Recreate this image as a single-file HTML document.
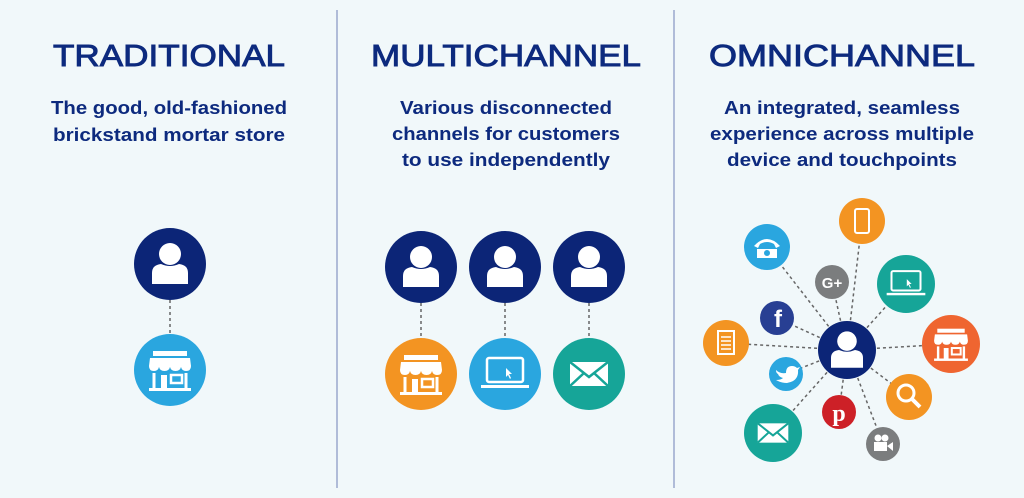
<!DOCTYPE html>
<html><head><meta charset="utf-8"><style>
html,body{margin:0;padding:0;background:#f1f8fa;}
svg{display:block}
.t{font-family:"Liberation Sans",sans-serif;font-weight:bold;fill:#0d2a7e;text-anchor:middle}
.h{font-weight:normal;stroke:#0d2a7e;stroke-width:0.9}
</style></head><body>
<svg width="1024" height="498" viewBox="0 0 1024 498" xmlns="http://www.w3.org/2000/svg">
<defs>
<symbol id="user" viewBox="-36 -36 72 72">
<circle cx="0" cy="-10" r="11" fill="#fff"/>
<path d="M-18 20 V9 Q-18 1 -9 0 Q0 4 9 0 Q18 1 18 9 V20 Z" fill="#fff"/>
</symbol>
<symbol id="store" viewBox="-36 -36 72 72">
<rect x="-17" y="-19" width="34" height="5" fill="#fff"/>
<path d="M-20 -12 H20 L21 -4 Q21 1 16 1 Q12 1 11 -3 Q10 1 5.5 1 Q1 1 0 -3 Q-1 1 -5.5 1 Q-10 1 -11 -3 Q-12 1 -16 1 Q-21 1 -21 -4Z" fill="#fff"/>
<path d="M-16 3 V18 M16 3 V18" stroke="#fff" stroke-width="3"/>
<rect x="-9" y="5" width="6" height="13" fill="#fff"/>
<rect x="1" y="5" width="11" height="8" fill="none" stroke="#fff" stroke-width="2.5"/>
<rect x="-21" y="18" width="42" height="3" fill="#fff"/>
</symbol>
<symbol id="laptop" viewBox="-36 -36 72 72">
<rect x="-18" y="-16" width="36" height="24" rx="2" fill="none" stroke="#fff" stroke-width="2.5"/>
<rect x="-24" y="11" width="48" height="3" fill="#fff"/>
<path d="M1 -6 L1 3 L3 1 L5 5 L6 4 L4 0 L7 0Z" fill="#fff"/>
</symbol>
<symbol id="mail" viewBox="-36 -36 72 72">
<rect x="-19" y="-12" width="38" height="24" fill="#fff"/>
<path d="M-19 -12 L0 3 L19 -12 M-19 12 L-5 -1 M19 12 L5 -1" stroke="#16a598" stroke-width="2.5" fill="none"/>
</symbol>
</defs>

<line x1="337" y1="10" x2="337" y2="488" stroke="#9aa8cc" stroke-width="1.5"/>
<line x1="674" y1="10" x2="674" y2="488" stroke="#9aa8cc" stroke-width="1.5"/>

<text class="t h" x="169" y="66" font-size="31" textLength="232" lengthAdjust="spacingAndGlyphs">TRADITIONAL</text>
<text class="t" x="169" y="114" font-size="18" textLength="236" lengthAdjust="spacingAndGlyphs">The good, old-fashioned</text>
<text class="t" x="169" y="141" font-size="18" textLength="232" lengthAdjust="spacingAndGlyphs">brickstand mortar store</text>

<text class="t h" x="506" y="66" font-size="31" textLength="270" lengthAdjust="spacingAndGlyphs">MULTICHANNEL</text>
<text class="t" x="506" y="114" font-size="18" textLength="212" lengthAdjust="spacingAndGlyphs">Various disconnected</text>
<text class="t" x="506" y="140" font-size="18" textLength="228" lengthAdjust="spacingAndGlyphs">channels for customers</text>
<text class="t" x="506" y="166" font-size="18" textLength="208" lengthAdjust="spacingAndGlyphs">to use independently</text>

<text class="t h" x="842" y="66" font-size="31" textLength="266" lengthAdjust="spacingAndGlyphs">OMNICHANNEL</text>
<text class="t" x="842" y="114" font-size="18" textLength="236" lengthAdjust="spacingAndGlyphs">An integrated, seamless</text>
<text class="t" x="842" y="140" font-size="18" textLength="264" lengthAdjust="spacingAndGlyphs">experience across multiple</text>
<text class="t" x="842" y="166" font-size="18" textLength="230" lengthAdjust="spacingAndGlyphs">device and touchpoints</text>

<g stroke="#666" stroke-width="1.5" stroke-dasharray="3,3">
<line x1="170" y1="300" x2="170" y2="334"/>
<line x1="421" y1="303" x2="421" y2="337"/>
<line x1="505" y1="303" x2="505" y2="337"/>
<line x1="589" y1="303" x2="589" y2="337"/>
<g>
<line x1="847" y1="350" x2="862" y2="221"/>
<line x1="847" y1="350" x2="767" y2="247"/>
<line x1="847" y1="350" x2="832" y2="282"/>
<line x1="847" y1="350" x2="906" y2="284"/>
<line x1="847" y1="350" x2="777" y2="318"/>
<line x1="847" y1="350" x2="726" y2="343"/>
<line x1="847" y1="350" x2="951" y2="344"/>
<line x1="847" y1="350" x2="786" y2="374"/>
<line x1="847" y1="350" x2="909" y2="397"/>
<line x1="847" y1="350" x2="773" y2="433"/>
<line x1="847" y1="350" x2="839" y2="412"/>
<line x1="847" y1="350" x2="883" y2="444"/>
</g>
</g>

<circle cx="170" cy="264" r="36" fill="#0c2577"/><use href="#user" x="134" y="228" width="72" height="72"/>
<circle cx="170" cy="370" r="36" fill="#2aa6df"/><use href="#store" x="134" y="334" width="72" height="72"/>

<circle cx="421" cy="267" r="36" fill="#0c2577"/><use href="#user" x="385" y="231" width="72" height="72"/>
<circle cx="505" cy="267" r="36" fill="#0c2577"/><use href="#user" x="469" y="231" width="72" height="72"/>
<circle cx="589" cy="267" r="36" fill="#0c2577"/><use href="#user" x="553" y="231" width="72" height="72"/>
<circle cx="421" cy="374" r="36" fill="#f39422"/><use href="#store" x="385" y="338" width="72" height="72"/>
<circle cx="505" cy="374" r="36" fill="#2aa6df"/><use href="#laptop" x="469" y="338" width="72" height="72"/>
<circle cx="589" cy="374" r="36" fill="#16a598"/><use href="#mail" x="553" y="338" width="72" height="72"/>

<circle cx="862" cy="221" r="23" fill="#f39422"/>
<rect x="855" y="209" width="14" height="24" rx="2" fill="none" stroke="#fff" stroke-width="2"/>
<circle cx="767" cy="247" r="23" fill="#2aa6df"/>
<path d="M754 246 Q767 232 780 246 L776 248 L774 244 Q767 240 760 244 L758 248Z M757 249 H777 V258 H757Z" fill="#fff"/>
<circle cx="767" cy="253" r="3" fill="#2aa6df"/>
<circle cx="832" cy="282" r="17" fill="#7b7d7e"/>
<text x="832" y="288" font-family="Liberation Sans,sans-serif" font-weight="bold" font-size="15" fill="#fff" text-anchor="middle">G+</text>
<circle cx="906" cy="284" r="29" fill="#16a598"/><use href="#laptop" x="877" y="255" width="58" height="58"/>
<circle cx="777" cy="318" r="17" fill="#283f93"/>
<text x="778" y="327" font-family="Liberation Sans,sans-serif" font-weight="bold" font-size="24" fill="#fff" text-anchor="middle">f</text>
<circle cx="726" cy="343" r="23" fill="#f39422"/>
<rect x="718" y="331" width="16" height="23" fill="none" stroke="#fff" stroke-width="2"/>
<path d="M721 337 H731 M721 341 H731 M721 345 H731 M721 349 H731" stroke="#fff" stroke-width="1.5"/>
<circle cx="951" cy="344" r="29" fill="#ef6530"/><use href="#store" x="922" y="315" width="58" height="58"/>
<circle cx="786" cy="374" r="17" fill="#2aa6df"/>
<path d="M776 370 Q780 374 786 373 Q786 366 792 366 Q795 366 797 368 L800 367 L798 370 Q799 381 787 383 Q781 383 776 380 Q781 380 783 378 Q779 377 778 374 Q776 373 776 370Z" fill="#fff"/>
<circle cx="909" cy="397" r="23" fill="#f39422"/>
<circle cx="906" cy="393" r="8" fill="none" stroke="#fff" stroke-width="3"/>
<line x1="912" y1="399" x2="920" y2="407" stroke="#fff" stroke-width="4"/>
<circle cx="773" cy="433" r="29" fill="#16a598"/><use href="#mail" x="744" y="404" width="58" height="58"/>
<circle cx="839" cy="412" r="17" fill="#cd2027"/>
<text x="839" y="421" font-family="Liberation Serif,serif" font-weight="bold" font-size="24" fill="#fff" text-anchor="middle">p</text>
<circle cx="883" cy="444" r="17" fill="#7b7d7e"/>
<rect x="874" y="442" width="13" height="9" fill="#fff"/>
<path d="M887 446 L893 442 V451 Z" fill="#fff"/>
<circle cx="878" cy="438" r="3.5" fill="#fff"/><circle cx="885" cy="438" r="3.5" fill="#fff"/>

<circle cx="847" cy="350" r="29" fill="#0c2577"/><use href="#user" x="815" y="318" width="64" height="64"/>
</svg>
</body></html>
